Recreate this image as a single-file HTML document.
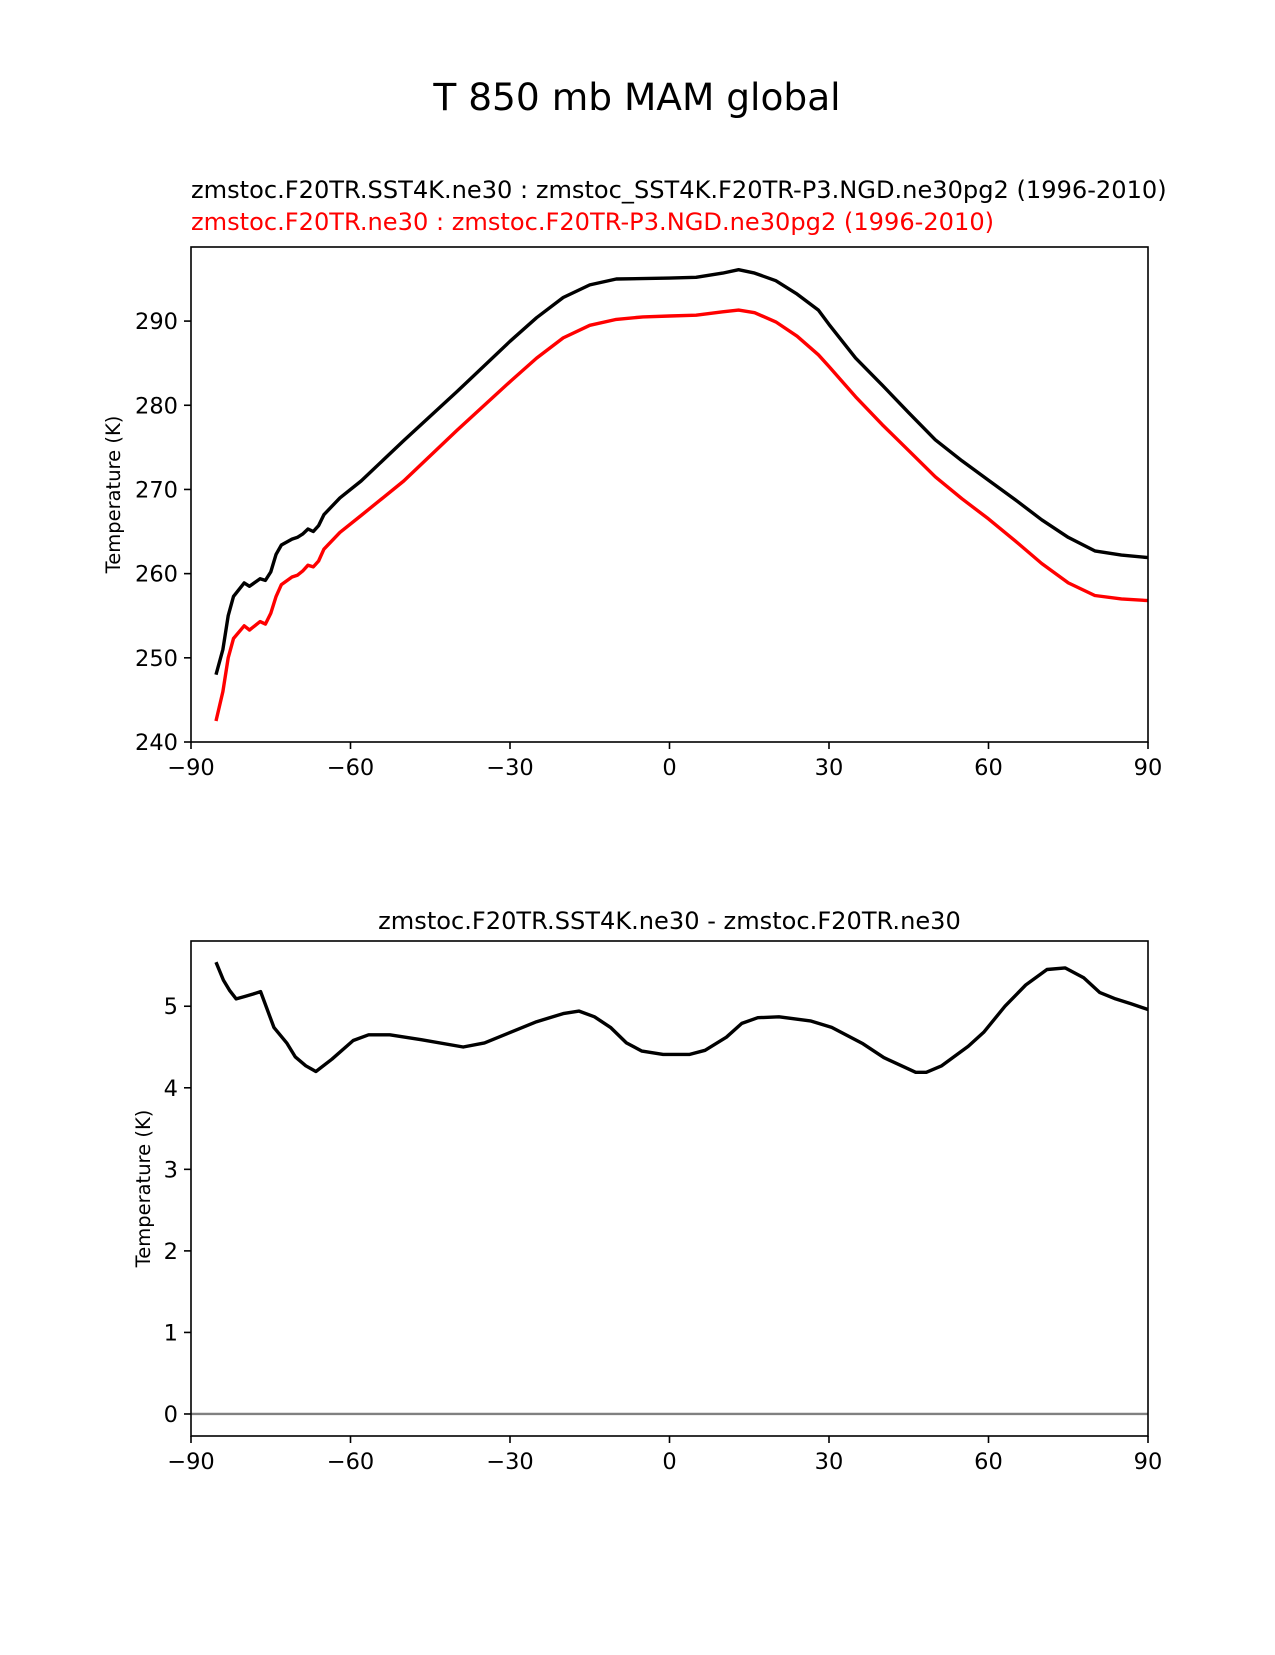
<!DOCTYPE html>
<html><head><meta charset="utf-8"><style>
body{margin:0;background:#fff}
svg text{font-family:"DejaVu Sans","Liberation Sans",sans-serif}
</style></head><body>
<svg id="fig" width="1275" height="1650" viewBox="0 0 1275 1650" xmlns="http://www.w3.org/2000/svg">
<rect width="1275" height="1650" fill="#fff"/>
<text x="637" y="110" font-size="37.5" text-anchor="middle">T 850 mb MAM global</text>
<text x="191" y="198" font-size="24.1">zmstoc.F20TR.SST4K.ne30 : zmstoc_SST4K.F20TR-P3.NGD.ne30pg2 (1996-2010)</text>
<text x="191" y="230" font-size="24.1" fill="#ff0000">zmstoc.F20TR.ne30 : zmstoc.F20TR-P3.NGD.ne30pg2 (1996-2010)</text>
<text x="669.5" y="929" font-size="24.1" text-anchor="middle">zmstoc.F20TR.SST4K.ne30 - zmstoc.F20TR.ne30</text>
<g id="top"></g>
<g id="bot"></g>
</svg>
<script>
const latBlack=[-85.3,-84,-83,-82,-80,-79,-77,-76,-75,-74,-73,-71,-70,-69,-68,-67,-66,-65,-62,-58,-50,-40,-30,-25,-20,-15,-10,0,5,10,13,16,20,24,28,30,35,40,45,50,55,60,65,70,75,80,85,90];
const tBlack=[248,251,255,257.3,258.9,258.5,259.4,259.2,260.2,262.3,263.4,264.1,264.3,264.7,265.3,265.0,265.7,267,269,271,275.8,281.6,287.6,290.4,292.8,294.3,295,295.1,295.2,295.7,296.1,295.7,294.8,293.2,291.3,289.6,285.6,282.4,279.1,275.9,273.4,271.1,268.8,266.4,264.3,262.7,262.2,261.9];
const latRed=[-85.3,-84,-83,-82,-80,-79,-77,-76,-75,-74,-73,-71,-70,-69,-68,-67,-66,-65,-62,-58,-50,-40,-30,-25,-20,-15,-10,-5,0,5,10,13,16,20,24,28,30,35,40,45,50,55,60,65,70,75,80,85,90];
const tRed=[242.5,246,250,252.3,253.8,253.3,254.3,254,255.3,257.3,258.7,259.6,259.8,260.3,261,260.8,261.5,262.9,264.9,266.9,271,277,282.8,285.6,288,289.5,290.2,290.5,290.6,290.7,291.1,291.3,291,289.9,288.2,286,284.6,281,277.7,274.6,271.5,268.9,266.5,263.9,261.2,258.9,257.4,257,256.8];
const latDiff=[-85.3,-83.9,-82.7,-81.5,-79.9,-78.3,-76.9,-76.4,-74.4,-72,-70.4,-68.4,-66.5,-63.5,-59.5,-56.6,-52.6,-46.7,-38.8,-34.8,-29.9,-25,-20,-17,-14.1,-11.1,-8.1,-5.2,-1.2,3.8,6.7,10.7,13.6,16.6,20.6,26.5,30.5,36.4,40.3,46.3,48.3,51.2,56.2,59.1,63.1,67,71,74.4,77.9,80.9,83.9,86.8,90];
const tDiff=[5.54,5.32,5.19,5.09,5.12,5.15,5.18,5.09,4.74,4.55,4.38,4.27,4.2,4.35,4.58,4.65,4.65,4.59,4.5,4.55,4.68,4.81,4.91,4.94,4.87,4.74,4.55,4.45,4.41,4.41,4.46,4.62,4.79,4.86,4.87,4.82,4.74,4.54,4.37,4.19,4.19,4.27,4.51,4.68,5.0,5.26,5.45,5.47,5.35,5.17,5.09,5.03,4.96];
const xTicks=[-90,-60,-30,0,30,60,90];
const xTickLabels=["\u221290","\u221260","\u221230","0","30","60","90"];
const yTicksTop=[240,250,260,270,280,290];
const yTicksBot=[0,1,2,3,4,5];

const NS="http://www.w3.org/2000/svg";
function mk(p,tag,a){const e=document.createElementNS(NS,tag);for(const k in a)e.setAttribute(k,a[k]);p.appendChild(e);return e;}
const L=191,R=1148;
function xs(v){return L+(v+90)/180*(R-L);}
function drawAxes(g,T,B,ymin,ymax,yt,ylabel,ylx,prefix){
  const ys=v=>B-(v-ymin)/(ymax-ymin)*(B-T);
  xTicks.forEach((t,i)=>{
    const l=mk(g,'line',{x1:xs(t),x2:xs(t),y1:B,y2:B+7,stroke:'#000','stroke-width':1.6});
    
    
    const tx=mk(g,'text',{x:xs(t),y:B+33,'font-size':22.5,'text-anchor':'middle'});
    tx.textContent=xTickLabels[i];
    
    
  });
  yt.forEach(t=>{
    const l=mk(g,'line',{x1:L-7,x2:L,y1:ys(t),y2:ys(t),stroke:'#000','stroke-width':1.6});
    
    
    const tx=mk(g,'text',{x:L-13,y:ys(t)+8,'font-size':22.5,'text-anchor':'end'});
    tx.textContent=String(t);
    
    
  });
  const yl=mk(g,'text',{x:ylx,y:(T+B)/2,'font-size':19.5,'text-anchor':'middle',transform:`rotate(-90 ${ylx} ${(T+B)/2})`});
  yl.textContent=ylabel;
  
  
  return ys;
}
function line(g,xa,ya,ys,color,w,name){
  const d=xa.map((x,i)=>(i?'L':'M')+xs(x).toFixed(1)+','+ys(ya[i]).toFixed(1)).join('');
  const p=mk(g,'path',{d:d,fill:'none',stroke:color,'stroke-width':w,'stroke-linejoin':'round'});
  
  
}
function frame(g,T,B,name){
  const r=mk(g,'rect',{x:L,y:T,width:R-L,height:B-T,fill:'none',stroke:'#000','stroke-width':1.6});
  
  
}
const gt=document.getElementById('top');
const ysT=drawAxes(gt,247,742,240,298.8,yTicksTop,'Temperature (K)',120,'top');
line(gt,latBlack,tBlack,ysT,'#000',3.4,'line-sst4k');
line(gt,latRed,tRed,ysT,'#ff0000',3.4,'line-control');
frame(gt,247,742,'top-plot-frame');
const gb=document.getElementById('bot');
const ysB=drawAxes(gb,941,1436,-0.27,5.8,yTicksBot,'Temperature (K)',150,'bottom');
const z=mk(gb,'line',{x1:L,x2:R,y1:ysB(0),y2:ysB(0),stroke:'#808080','stroke-width':2.4});


line(gb,latDiff,tDiff,ysB,'#000',3.4,'line-difference');
frame(gb,941,1436,'bottom-plot-frame');
</script>
</body></html>
